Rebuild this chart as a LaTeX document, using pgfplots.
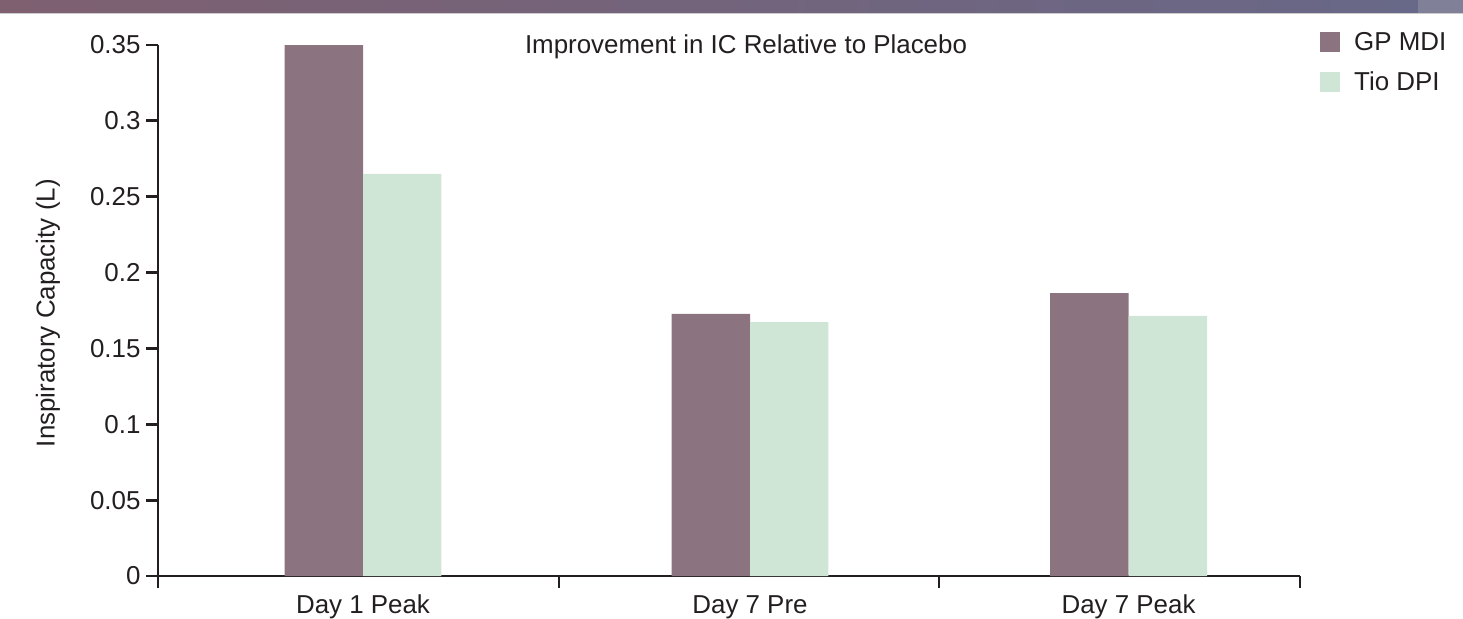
\documentclass[border=0pt]{standalone}
\usepackage{pgfplots}
\pgfplotsset{compat=1.18}
\usepackage{fontspec}
\setmainfont{Liberation Sans}
\definecolor{gpmdi}{RGB}{139,115,128}
\definecolor{tiodpi}{RGB}{207,230,215}
\definecolor{axisblk}{RGB}{35,31,32}
\definecolor{bannerL}{RGB}{126,96,112}
\definecolor{bannerR}{RGB}{104,104,136}
\definecolor{bannerT}{RGB}{128,128,152}
\begin{document}
\begin{tikzpicture}[x=1bp,y=1bp]
\path[use as bounding box] (0,0) rectangle (1463,-619);
\shade[left color=bannerL, right color=bannerR] (0,0) rectangle (1418,-13);
\fill[bannerT] (1418,0) rectangle (1463,-13);
\draw[gray!40, line width=0.8bp] (0,-13.4) -- (1463,-13.4);
\begin{axis}[
  at={(158bp,-576bp)}, anchor=south west,
  scale only axis, width=1142bp, height=531bp,
  xmin=-0.5356, xmax=2.448, ymin=0, ymax=0.35,
  axis x line=bottom, axis y line=left,
  axis line style={-, line width=2.8bp, draw=axisblk},
  tick align=outside,
  major tick length=12bp,
  tick style={line width=2.8bp, draw=axisblk},
  ytick={0,0.05,0.1,0.15,0.2,0.25,0.3,0.35},
  yticklabels={0,0.05,0.1,0.15,0.2,0.25,0.3,0.35},
  xtick={-0.5356,0.512,1.505,2.448},
  xticklabels={},
  extra x ticks={0,1.011,2},
  extra x tick labels={Day 1 Peak,Day 7 Pre,Day 7 Peak},
  extra x tick style={major tick length=0pt, xticklabel style={yshift=-15bp, text height=19bp, text depth=5bp}},
  ticklabel style={font=\fontsize{26}{30}\selectfont, text=axisblk},
  yticklabel style={xshift=-2bp},
  ylabel={Inspiratory Capacity (L)},
  ylabel style={font=\fontsize{26}{30}\selectfont, text=axisblk, at={(axis description cs:-0.0963,0.495)}, anchor=center},
  ybar, bar width=0.205,
  legend style={at={(axis description cs:1.0175,1.028)}, anchor=north west, draw=none, fill=none,
    font=\fontsize{26}{30}\selectfont, text=axisblk, row sep=16bp, inner sep=0pt,
    nodes={inner xsep=8bp},
    /tikz/every odd column/.append style={column sep=6bp}},
  legend image code/.code={\fill[#1] (0bp,-10bp) rectangle (20bp,10bp);},
  legend cell align=left,
  clip=false,
]
\addplot[fill=gpmdi, draw=none, bar shift=-0.1025] coordinates {(0,0.35) (1.011,0.1727) (2,0.1865)};
\addplot[fill=tiodpi, draw=none, bar shift=0.1025] coordinates {(0,0.265) (1.011,0.1674) (2,0.1714)};
\legend{GP MDI, Tio DPI}
\end{axis}
\node[font=\fontsize{26}{30}\selectfont, text=axisblk, anchor=base] at (746,-54) {Improvement in IC Relative to Placebo};
\end{tikzpicture}
\end{document}
